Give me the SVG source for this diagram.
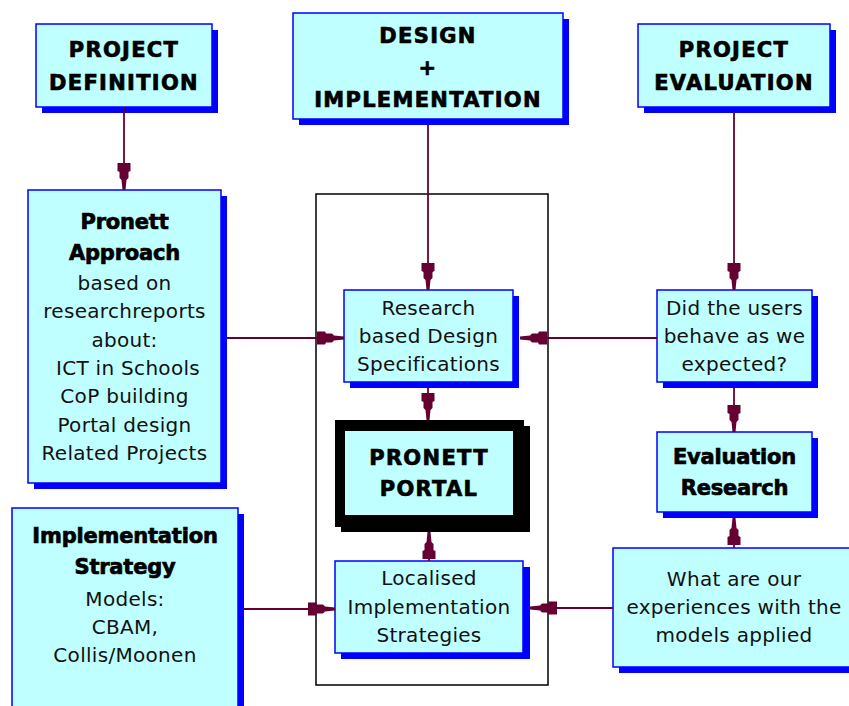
<svg xmlns="http://www.w3.org/2000/svg" width="849" height="706" viewBox="0 0 849 706">
  <style>
    .box { fill: #C0FFFF; stroke: #0000FF; stroke-width: 1.5; }
    .shadow { fill: #0000FF; }
    .title { font-family: "DejaVu Sans", sans-serif; font-weight: bold; font-size: 21px; letter-spacing: 1.3px; fill: #000; stroke: #000; stroke-width: 0.7; text-anchor: middle; }
    .head { font-family: "DejaVu Sans", sans-serif; font-weight: bold; font-size: 21px; letter-spacing: -0.2px; fill: #000; stroke: #000; stroke-width: 0.7; text-anchor: middle; }
    .body { font-family: "DejaVu Sans", sans-serif; font-size: 20px; letter-spacing: 0.3px; fill: #111; text-anchor: middle; }
    .link { stroke: #660033; stroke-width: 1.8; fill: none; marker-end: url(#head); }
    .frame { fill: none; stroke: #000; stroke-width: 1.5; }
  </style>
  <defs>
    <marker id="head" viewBox="-28 -8 30 16" refX="0" refY="0" markerWidth="30" markerHeight="16" markerUnits="userSpaceOnUse" orient="auto" overflow="visible">
      <path d="M0,-1.5 L-10,-2.5 L-12,-4.5 L-18,-4.5 L-19,-6.5 L-27,-6.5 L-27,6.5 L-19,6.5 L-18,4.5 L-12,4.5 L-10,2.5 L0,1.5 Z" fill="#660033"/>
    </marker>
  </defs>

  <rect width="849" height="706" fill="#FFFFFF"/>

  <!-- portal frame -->
  <rect class="frame" x="316" y="194" width="232" height="491"/>

  <g id="project-definition">
    <rect class="shadow" x="42" y="30" width="176" height="83"/>
    <rect class="box" x="36" y="24" width="176" height="83"/>
    <text class="title" x="124" y="57">PROJECT</text>
    <text class="title" x="124" y="90">DEFINITION</text>
  </g>

  <g id="design-implementation">
    <rect class="shadow" x="299" y="19" width="270" height="106"/>
    <rect class="box" x="293" y="13" width="270" height="106"/>
    <text class="title" x="428" y="43">DESIGN</text>
    <text class="title" x="428" y="75">+</text>
    <text class="title" x="428" y="107">IMPLEMENTATION</text>
  </g>

  <g id="project-evaluation">
    <rect class="shadow" x="644" y="30" width="192" height="83"/>
    <rect class="box" x="638" y="24" width="192" height="83"/>
    <text class="title" x="734" y="57">PROJECT</text>
    <text class="title" x="734" y="90">EVALUATION</text>
  </g>

  <g id="pronett-approach">
    <rect class="shadow" x="34" y="196" width="193" height="293"/>
    <rect class="box" x="28" y="190" width="193" height="293"/>
    <text class="head" x="124.5" y="229">Pronett</text>
    <text class="head" x="124.5" y="260">Approach</text>
    <text class="body" x="124.5" y="290">based on</text>
    <text class="body" x="124.5" y="318">researchreports</text>
    <text class="body" x="124.5" y="347">about:</text>
    <text class="body" x="128" y="375">ICT in Schools</text>
    <text class="body" x="124.5" y="403">CoP building</text>
    <text class="body" x="124.5" y="432">Portal design</text>
    <text class="body" x="124.5" y="460">Related Projects</text>
  </g>

  <g id="research-specs">
    <rect class="shadow" x="350" y="296" width="169" height="92"/>
    <rect class="box" x="344" y="290" width="169" height="92"/>
    <text class="body" x="428.5" y="315">Research</text>
    <text class="body" x="428.5" y="343">based Design</text>
    <text class="body" x="428.5" y="371">Specifications</text>
  </g>

  <g id="pronett-portal">
    <rect x="341" y="426" width="189" height="106" fill="#000"/>
    <rect x="335" y="420" width="189" height="107" fill="#000"/>
    <rect x="345" y="431" width="168" height="84" fill="#C0FFFF"/>
    <text class="title" x="429" y="465">PRONETT</text>
    <text class="title" x="429" y="496">PORTAL</text>
  </g>

  <g id="user-behaviour">
    <rect class="shadow" x="663" y="296" width="155" height="92"/>
    <rect class="box" x="657" y="290" width="155" height="92"/>
    <text class="body" x="734.5" y="315">Did the users</text>
    <text class="body" x="734.5" y="343">behave as we</text>
    <text class="body" x="734.5" y="371">expected?</text>
  </g>

  <g id="evaluation-research">
    <rect class="shadow" x="663" y="438" width="155" height="80"/>
    <rect class="box" x="657" y="432" width="155" height="80"/>
    <text class="head" x="734.5" y="464">Evaluation</text>
    <text class="head" x="734.5" y="495">Research</text>
  </g>

  <g id="implementation-strategy">
    <rect class="shadow" x="18" y="514" width="226" height="200"/>
    <rect class="box" x="12" y="508" width="226" height="210"/>
    <text class="head" x="125" y="543">Implementation</text>
    <text class="head" x="125" y="574">Strategy</text>
    <text class="body" x="125" y="606">Models:</text>
    <text class="body" x="125" y="634">CBAM,</text>
    <text class="body" x="125" y="662">Collis/Moonen</text>
  </g>

  <g id="localised-strategies">
    <rect class="shadow" x="341" y="567" width="189" height="92"/>
    <rect class="box" x="335" y="561" width="188" height="92"/>
    <text class="body" x="429" y="585">Localised</text>
    <text class="body" x="429" y="614">Implementation</text>
    <text class="body" x="429" y="642">Strategies</text>
  </g>

  <g id="model-experiences">
    <rect class="shadow" x="619" y="554" width="240" height="119"/>
    <rect class="box" x="613" y="548" width="245" height="119"/>
    <text class="body" x="734" y="586">What are our</text>
    <text class="body" x="734" y="614">experiences with the</text>
    <text class="body" x="734" y="642">models applied</text>
  </g>

  <g id="connectors">
    <path class="link" d="M124,107 V190"/>
    <path class="link" d="M428,125 V290"/>
    <path class="link" d="M734,112 V290"/>
    <path class="link" d="M227,338 H344"/>
    <path class="link" d="M657,338 H520"/>
    <path class="link" d="M428,388 V420"/>
    <path class="link" d="M734,388 V432"/>
    <path class="link" d="M734,548 V518"/>
    <path class="link" d="M429,561 V532"/>
    <path class="link" d="M244,609 H335"/>
    <path class="link" d="M613,608 H530"/>
  </g>
</svg>
